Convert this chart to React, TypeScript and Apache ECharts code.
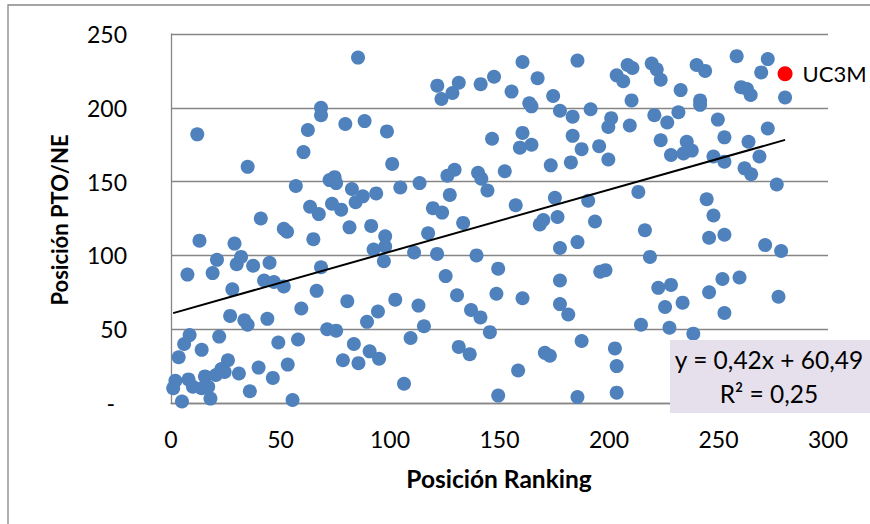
import React, { useEffect, useRef } from "react";
import * as echarts from "echarts";

// Posición Ranking (x) of every university
const rankingPos = [
  1, 2, 3.5, 5, 6, 7.5, 8.5, 8, 10, 12, 13, 14, 14, 15.5, 17, 18, 19, 21, 20.5, 22,
  23, 24.5, 26, 27, 28, 29, 30, 31, 32, 33.5, 35, 35, 36, 37.5, 40, 41, 42.5, 44, 45, 47,
  46.5, 49, 51.5, 51.5, 53, 53.3, 55.5, 57, 58, 59.5, 60.5, 62.5, 63.5, 65, 66.5, 67.5, 68.5, 68.5, 68.5, 71.3,
  72.4, 73.5, 74.7, 75.4, 75.4, 77.7, 78.5, 79.6, 80.5, 81.5, 82.6, 83.5, 84.3, 85.4, 85.6, 87.6, 88.4, 89.5, 90.7, 91.4,
  92.5, 93.7, 94.5, 95, 97.2, 98.6, 97.8, 97.8, 101, 102.4, 104.7, 106.4, 109.4, 111, 113.5, 113, 115.5, 117.4, 119.6, 121.6,
  121.5, 123.5, 123.8, 125.4, 126.2, 127.3, 128.5, 129.5, 130.6, 131.4, 131.4, 133.4, 136.4, 137, 139.5, 140.2, 141.4, 141.3, 141.7, 144.5,
  145.6, 146.6, 147.5, 148.6, 149.4, 149.4, 152.4, 155.5, 157.4, 158.5, 159.3, 160.5, 160.5, 160.5, 164.6, 163.6, 164.6, 167.4, 168.4, 170,
  170.7, 173, 173.4, 174.5, 175.3, 176.5, 177.6, 177.6, 177.6, 177.6, 181.4, 182.6, 183.4, 183.4, 185.6, 185.6, 185.6, 187.5, 187.5, 190.5,
  191.6, 193.6, 195.5, 196, 198.4, 199.7, 199.7, 201, 202.7, 203.5, 203.5, 203.5, 206.5, 208.5, 209.5, 210.7, 210.3, 213.4, 214.6, 216.4,
  218.7, 219.5, 220.7, 221.8, 222.5, 223.6, 223.6, 225.6, 226.6, 227.6, 228.3, 228.3, 231.7, 232.7, 233.6, 234, 235.5, 237.8, 238.5, 240,
  241.6, 241.6, 243.9, 244.6, 245.7, 245.7, 247.7, 247.7, 249.7, 251.8, 252.7, 252.7, 252.7, 252.7, 258.3, 259.6, 260.3, 261.9, 263, 263.7,
  264.9, 264.7, 268.7, 269.5, 271.3, 272.5, 272.5, 276.6, 277.4, 278.6, 280.4,
];

// Posición PTO/NE (y) of every university, same order
const ptoPos = [
  10, 15, 31, 1, 40, 87, 46, 16, 11, 182, 110, 36, 10, 18, 11, 3, 88, 97, 19, 45,
  23, 21, 29, 59, 77, 108, 94, 20, 99, 56, 53, 160, 8, 93, 24, 125, 83, 57, 95, 82,
  17, 41, 79, 118, 116, 26, 2, 147, 43, 64, 170, 185, 133, 111, 76, 128, 200, 195, 92, 50,
  151, 135, 153, 149, 49, 131, 29, 189, 69, 119, 145, 40, 136, 234, 27, 140, 191, 55, 35, 120,
  104, 142, 62, 30, 96, 184, 113, 106, 162, 70, 146, 13, 44, 102, 149, 66, 52, 115, 132, 215,
  101, 206, 129, 86, 154, 141, 210, 158, 73, 217, 38, 122, 33, 63, 100, 156, 216, 58, 152, 144,
  48, 179, 221, 74, 5, 91, 157, 211, 134, 22, 173, 231, 183, 71, 175, 203, 201, 220, 121, 124,
  34, 32, 161, 208, 139, 126, 198, 105, 83, 67, 60, 163, 181, 194, 232, 109, 4, 172, 42, 137,
  199, 123, 174, 89, 90, 187, 165, 193, 37, 222, 25, 7, 218, 229, 188, 227, 205, 143, 53, 117,
  99, 230, 195, 226, 78, 178, 219, 65, 190, 51, 168, 80, 197, 212, 68, 169, 177, 171, 47, 229,
  205, 202, 225, 138, 112, 75, 127, 167, 192, 84, 61, 163.5, 180, 114, 235, 85, 214, 159, 212.7, 177,
  155, 208.7, 167, 224, 107, 233, 186, 148, 72, 103, 207,
];

// Highlighted university
const highlightName = "UC3M";
const highlightRanking = 280.4;
const highlightPto = 223;

// Linear trend line (as reported on the chart)
const trendSlope = 0.42;
const trendIntercept = 60.49;
const trendR2 = 0.25;
const trendFromX = 1;
const trendToX = 280.4;

const FONT = "Lato";
const fmt = (v: number) => v.toFixed(2).replace(".", ",");

export default function App() {
  const ref = useRef<HTMLDivElement>(null);

  useEffect(() => {
    if (!ref.current) return;
    const chart = echarts.init(ref.current, null, { renderer: "svg" });
    chart.setOption({
      animation: false,
      backgroundColor: "#ffffff",
      grid: { left: 171, top: 34, width: 657, height: 369, containLabel: false },
      xAxis: {
        type: "value",
        min: 0,
        max: 300,
        interval: 50,
        axisLine: { show: true, lineStyle: { color: "#868686", width: 1.3 } },
        axisTick: { show: false },
        splitLine: { show: false },
        axisLabel: { color: "#000", fontSize: 23, fontFamily: FONT, margin: 24 },
      },
      yAxis: {
        type: "value",
        min: 0,
        max: 250,
        interval: 50,
        axisLine: { show: true, lineStyle: { color: "#868686", width: 1.3 } },
        axisTick: { show: false },
        splitLine: { show: true, lineStyle: { color: "#868686", width: 1.3 } },
        axisLabel: {
          color: "#000",
          fontSize: 23,
          fontFamily: FONT,
          margin: 44,
          formatter: (v: number) => (v === 0 ? "{d|-}" : String(v)),
          rich: { d: { color: "#000", fontSize: 23, fontFamily: FONT, padding: [0, 12, 0, 0] } },
        },
      },
      series: [
        {
          type: "scatter",
          data: rankingPos.map((x, i) => [x, ptoPos[i]]),
          symbolSize: 14,
          itemStyle: { color: "#4F81BD", opacity: 1 },
          z: 2,
        },
        {
          type: "line",
          data: [
            [trendFromX, trendSlope * trendFromX + trendIntercept],
            [trendToX, trendSlope * trendToX + trendIntercept],
          ],
          symbol: "none",
          lineStyle: { color: "#000", width: 2 },
          z: 3,
        },
        {
          type: "scatter",
          data: [[highlightRanking, highlightPto]],
          symbolSize: 15,
          itemStyle: { color: "#FF0000", opacity: 1 },
          label: {
            show: true,
            position: "right",
            distance: 10,
            formatter: highlightName,
            color: "#000",
            fontSize: 22,
            fontFamily: FONT,
          },
          z: 4,
        },
      ],
      graphic: [
        {
          type: "rect",
          silent: true,
          z: 0,
          shape: { x: 8, y: 5, width: 900, height: 600 },
          style: { fill: "none", stroke: "#868686", lineWidth: 1.3 },
        },
        {
          type: "rect",
          silent: true,
          z: 100,
          shape: { x: 670, y: 340, width: 200, height: 73 },
          style: { fill: "#E5E0EC" },
        },
        {
          type: "text",
          z: 101,
          x: 769,
          y: 359,
          style: {
            text: `y = ${fmt(trendSlope)}x + ${fmt(trendIntercept)}`,
            fill: "#000",
            fontSize: 24.5,
            fontFamily: FONT,
            align: "center",
            verticalAlign: "middle",
            textAlign: "center",
            textVerticalAlign: "middle",
          },
        },
        {
          type: "text",
          z: 101,
          x: 769,
          y: 393,
          style: {
            text: `R² = ${fmt(trendR2)}`,
            fill: "#000",
            fontSize: 24.5,
            fontFamily: FONT,
            align: "center",
            verticalAlign: "middle",
            textAlign: "center",
            textVerticalAlign: "middle",
          },
        },
        {
          type: "text",
          z: 101,
          x: 59,
          y: 220,
          rotation: Math.PI / 2,
          style: {
            text: "Posición PTO/NE",
            fill: "#000",
            fontSize: 22,
            fontWeight: "bold",
            fontFamily: FONT,
            align: "center",
            verticalAlign: "middle",
            textAlign: "center",
            textVerticalAlign: "middle",
          },
        },
        {
          type: "text",
          z: 101,
          x: 499,
          y: 478,
          style: {
            text: "Posición Ranking",
            fill: "#000",
            fontSize: 24.5,
            fontWeight: "bold",
            fontFamily: FONT,
            align: "center",
            verticalAlign: "middle",
            textAlign: "center",
            textVerticalAlign: "middle",
          },
        },
      ],
    });
    return () => chart.dispose();
  }, []);

  return (
    <div
      ref={ref}
      style={{ position: "absolute", left: 0, top: 0, width: 870, height: 524 }}
    />
  );
}
